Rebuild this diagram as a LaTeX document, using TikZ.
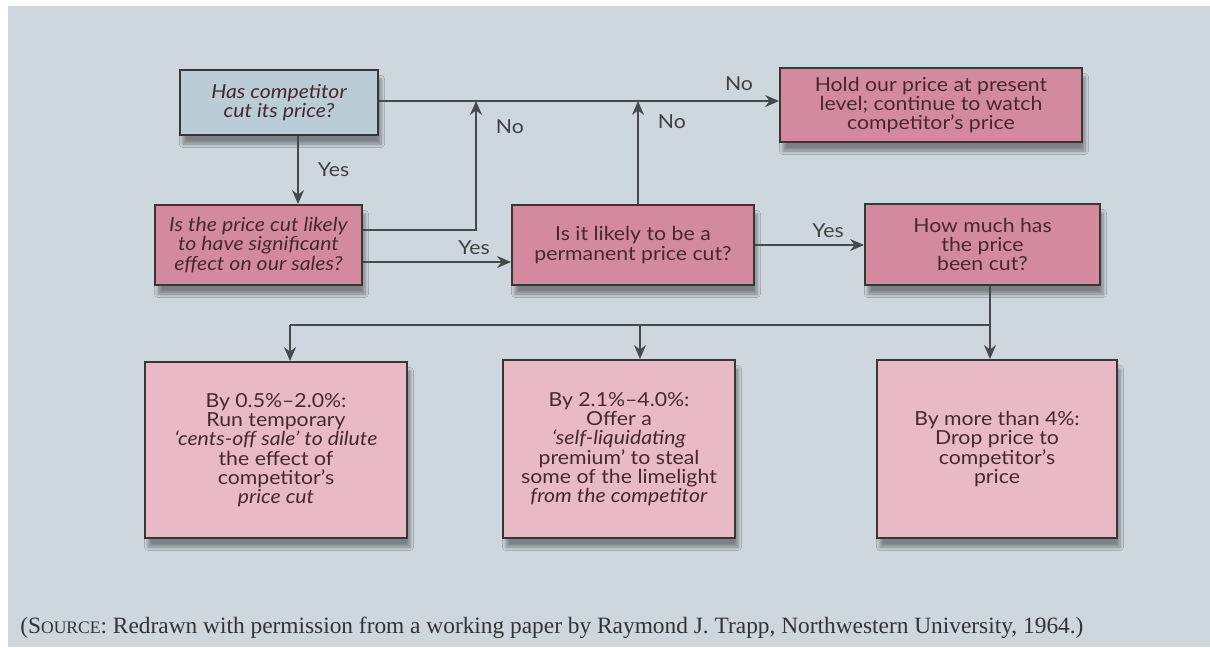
\documentclass[tikz,border=0pt]{standalone}
\usepackage{fontspec}
\setmainfont[FakeStretch=1.1]{Lato}
\newfontfamily\capfont{Liberation Serif}
\usetikzlibrary{arrows.meta,shadows.blur}
\definecolor{pgback}{RGB}{206,215,221}
\definecolor{qblue}{RGB}{186,204,214}
\definecolor{qpink}{RGB}{212,138,158}
\definecolor{apink}{RGB}{231,186,198}
\definecolor{edgegray}{RGB}{58,54,54}
\definecolor{inkred}{RGB}{72,40,48}
\definecolor{linegray}{RGB}{70,74,74}
\tikzset{
  qblk/.style={rectangle, draw=edgegray, line width=1.1pt, fill=qpink, text=inkred,
               align=center, font=\fontsize{11}{11}\selectfont, inner sep=2pt,
               blur shadow={shadow xshift=0.6mm, shadow yshift=-1.8mm, shadow opacity=40, shadow blur steps=6}},
  ablk/.style={qblk, fill=apink},
  oline/.style={linegray, line width=0.75pt},
  oarr/.style={oline, -{Stealth[length=2.8mm, width=2.4mm]}},
  olab/.style={font=\fontsize{11}{11}\selectfont, text=black!75, inner sep=1pt},
}

\begin{document}
\begin{tikzpicture}[x=0.02cm, y=-0.02cm]
        \useasboundingbox (0,0) rectangle (1210,647);
        \fill[pgback] (8,6) rectangle (1210,647);
        % questions
        \node[qblk, fill=qblue, minimum width=198*0.02cm, minimum height=65*0.02cm](comp) at (279,102.5){\itshape Has competitor\\\itshape cut its price?};
        \node[qblk, minimum width=302*0.02cm, minimum height=74*0.02cm](hold) at (931,105){Hold our price at present\\level; continue to watch\\competitor's price};
        \node[qblk, minimum width=207*0.02cm, minimum height=80*0.02cm](effect) at (258.5,245){\itshape Is the price cut likely\\\itshape to have significant\\\itshape effect on our sales?};
        \node[qblk, minimum width=242*0.02cm, minimum height=80*0.02cm](perm) at (633,245){Is it likely to be a\\permanent price cut?};
        \node[qblk, minimum width=235*0.02cm, minimum height=81*0.02cm](howmuch) at (982.5,244.5){How much has\\the price\\been cut?};
        % answers
        \node[ablk, minimum width=262*0.02cm, minimum height=176*0.02cm](small) at (276,450){By 0.5\%--2.0\%:\\Run temporary\\\textit{`cents-off sale' to dilute}\\the effect of\\competitor's\\\textit{price cut}};
        \node[ablk, minimum width=232*0.02cm, minimum height=178*0.02cm](mid) at (619,449){By 2.1\%--4.0\%:\\Offer a\\\textit{`self-liquidating}\\premium' to steal\\some of the limelight\\\textit{from the competitor}};
        \node[ablk, minimum width=240*0.02cm, minimum height=178*0.02cm](big) at (997,449){By more than 4\%:\\Drop price to\\competitor's\\price};
        % junctions
        \coordinate (down) at (298,170);
        \coordinate (nA) at (476,101);
        \coordinate (nB) at (638,101);
        \coordinate (d1) at (290,325);
        \coordinate (d2) at (640,325);
        \coordinate (d3) at (990,325);
        % connectors
        \draw[oarr](comp.south -| down)--(down |- effect.north) node[midway, right=3.5mm, olab]{Yes};
        \draw[oarr](comp.east |- nA)--(nA -| hold.west) node[pos=0.9, above=1.5mm, olab]{No};
        \draw[oarr]([yshift=3mm]effect.east)-|(nA) node[pos=0.9, right=3.5mm, olab]{No};
        \draw[oarr](perm.north -| nB)--(nB) node[pos=0.8, right=3.5mm, olab]{No};
        \draw[oarr]([yshift=-3.4mm]effect.east)--([yshift=-3.4mm]effect.east -| perm.west) node[pos=0.75, above=1mm, olab]{Yes};
        \draw[oarr](perm.east)--(perm.east -| howmuch.west) node[pos=0.67, above=1mm, olab]{Yes};
        \draw[oline](howmuch.south -| d3)--(d3)--(d1);
        \draw[oarr](d1)--(d1 |- small.north);
        \draw[oarr](d2)--(d2 |- mid.north);
        \draw[oarr](d3)--(d3 |- big.north);
        % source line
        \node[font=\capfont\fontsize{13.3}{15}\selectfont, text=black!80, anchor=west, inner sep=0pt](src) at (20,628){(S{\fontsize{10}{10}\selectfont OURCE}: Redrawn with permission from a working paper by Raymond J. Trapp, Northwestern University, 1964.)};
    \end{tikzpicture}
\end{document}
